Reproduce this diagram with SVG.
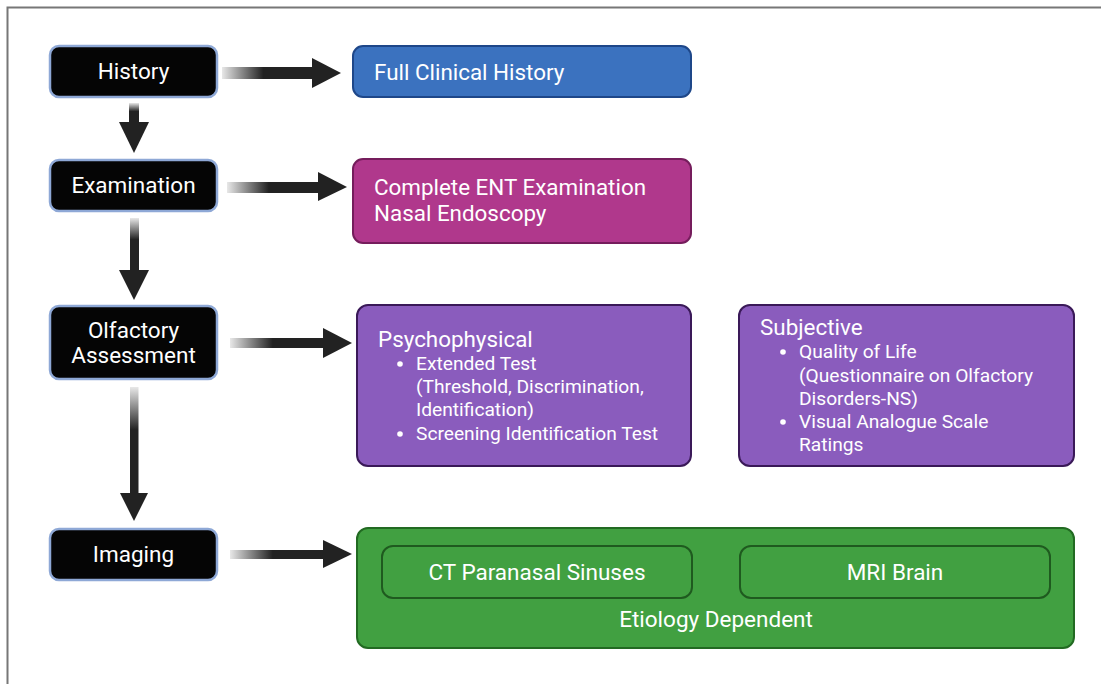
<svg xmlns="http://www.w3.org/2000/svg" width="1101" height="684" viewBox="0 0 1101 684">
<defs>
<linearGradient id="gh" x1="0" y1="0" x2="1" y2="0">
<stop offset="0" stop-color="#e8e8e8"/>
<stop offset="0.45" stop-color="#222"/>
<stop offset="1" stop-color="#222"/>
</linearGradient>
<linearGradient id="gv" x1="0" y1="0" x2="0" y2="1">
<stop offset="0" stop-color="#e8e8e8"/>
<stop offset="0.4" stop-color="#222"/>
<stop offset="1" stop-color="#222"/>
</linearGradient>
</defs>
<style>
.step{fill:#050505;stroke:#8ea8d6;stroke-width:2.5}
.t{font-family:Roboto,"Liberation Sans",sans-serif;fill:#fff}
.st{font-size:22.5px;text-anchor:middle}
.big{font-size:22.4px}
.sm{font-size:19.2px}
.head{fill:#222}
</style>
<rect x="7.5" y="7.5" width="1110" height="700" fill="#fff" stroke="#777" stroke-width="2"/>
<g id="connectors">
<rect x="222" y="67" width="92" height="12" fill="url(#gh)"/>
<polygon class="head" points="312,58 341,73 312,88"/>
<rect x="227" y="182" width="93" height="11" fill="url(#gh)"/>
<polygon class="head" points="318,172 347,187 318,201"/>
<rect x="230" y="338" width="95" height="10" fill="url(#gh)"/>
<polygon class="head" points="323,328 352,343 323,358"/>
<rect x="230" y="550" width="95" height="9" fill="url(#gh)"/>
<polygon class="head" points="323,540 352,554 323,568"/>
<rect x="129" y="103" width="10" height="21" fill="url(#gv)"/>
<polygon class="head" points="119,122 149,122 134,153"/>
<rect x="130" y="218" width="9" height="54" fill="url(#gv)"/>
<polygon class="head" points="119,270 149,270 134,300"/>
<rect x="130" y="387" width="8.5" height="108" fill="url(#gv)"/>
<polygon class="head" points="120,493 148,493 134,521"/>
</g>
<g id="history">
<rect class="step" x="50" y="46" width="167" height="51" rx="9"/>
<text class="t st" x="133.5" y="79">History</text>
</g>
<g id="examination">
<rect class="step" x="50" y="160" width="167" height="51" rx="9"/>
<text class="t st" x="133.5" y="193">Examination</text>
</g>
<g id="olfactory">
<rect class="step" x="50" y="306" width="167" height="73" rx="9"/>
<text class="t st" x="133.5" y="338">Olfactory</text>
<text class="t st" x="133.5" y="363">Assessment</text>
</g>
<g id="imaging">
<rect class="step" x="50" y="529" width="167" height="51" rx="9"/>
<text class="t st" x="133.5" y="562">Imaging</text>
</g>
<g id="full-history">
<rect x="353" y="46" width="338" height="51" rx="10" fill="#3b72bf" stroke="#1e4789" stroke-width="2"/>
<text class="t big" x="374" y="80">Full Clinical History</text>
</g>
<g id="ent">
<rect x="353" y="159" width="338" height="84" rx="10" fill="#b0388c" stroke="#751d5c" stroke-width="2"/>
<text class="t big" x="374" y="195">Complete ENT Examination</text>
<text class="t big" x="374" y="221">Nasal Endoscopy</text>
</g>
<g id="psychophysical">
<rect x="357" y="305" width="334" height="161" rx="11" fill="#8a5cbd" stroke="#3a1958" stroke-width="2"/>
<text class="t big" x="378" y="347">Psychophysical</text>
<circle cx="400" cy="364" r="2.8" fill="#fff"/>
<text class="t sm" x="416" y="370">Extended Test</text>
<text class="t sm" x="416" y="393">(Threshold, Discrimination,</text>
<text class="t sm" x="416" y="416">Identification)</text>
<circle cx="400" cy="434" r="2.8" fill="#fff"/>
<text class="t sm" x="416" y="440">Screening Identification Test</text>
</g>
<g id="subjective">
<rect x="739" y="305" width="335" height="161" rx="11" fill="#8a5cbd" stroke="#3a1958" stroke-width="2"/>
<text class="t big" x="760" y="335">Subjective</text>
<circle cx="783" cy="352" r="2.8" fill="#fff"/>
<text class="t sm" x="799" y="358">Quality of Life</text>
<text class="t sm" x="799" y="382">(Questionnaire on Olfactory</text>
<text class="t sm" x="799" y="405">Disorders-NS)</text>
<circle cx="783" cy="422" r="2.8" fill="#fff"/>
<text class="t sm" x="799" y="428">Visual Analogue Scale</text>
<text class="t sm" x="799" y="451">Ratings</text>
</g>
<g id="imaging-group">
<rect x="357" y="528" width="717" height="120" rx="11" fill="#41a041" stroke="#226a22" stroke-width="2"/>
<text class="t st" x="716" y="627">Etiology Dependent</text>
</g>
<g id="ct">
<rect x="382" y="546" width="310" height="52" rx="11" fill="#41a041" stroke="#1f5a1f" stroke-width="2"/>
<text class="t st" x="537" y="580">CT Paranasal Sinuses</text>
</g>
<g id="mri">
<rect x="740" y="546" width="310" height="52" rx="11" fill="#41a041" stroke="#1f5a1f" stroke-width="2"/>
<text class="t st" x="895" y="580">MRI Brain</text>
</g>
</svg>
